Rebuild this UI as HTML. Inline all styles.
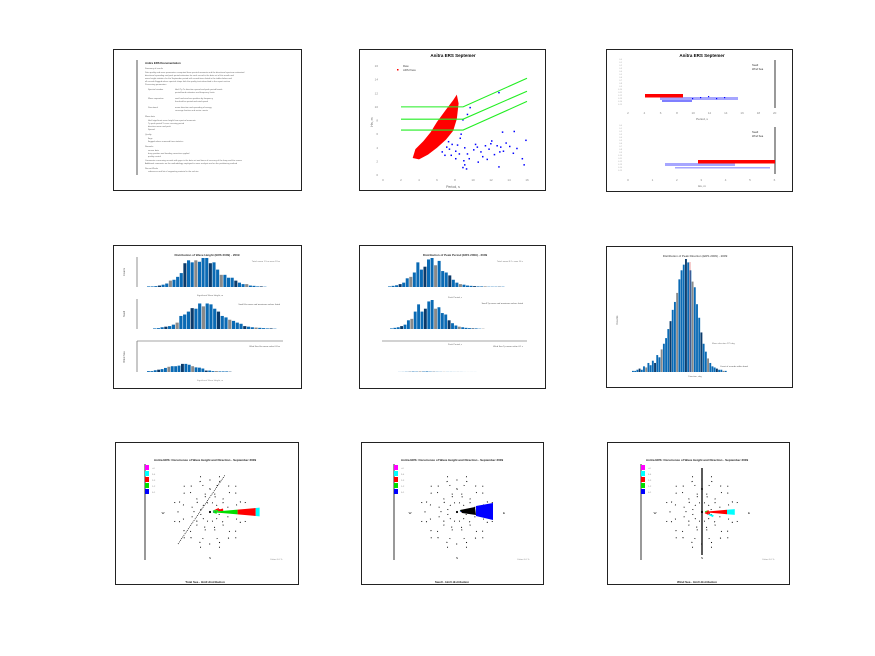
<!DOCTYPE html>
<html><head><meta charset="utf-8"><style>
html,body{margin:0;padding:0;background:#fff;}
svg{display:block;font-family:"Liberation Sans",sans-serif;}
</style></head><body>
<svg id="s" width="875" height="656" viewBox="0 0 875 656" xmlns="http://www.w3.org/2000/svg"></svg>
<script>
// ---------- data ----------
const scatterXTicks=[0,2,4,6,8,10,12,14,16];
const scatterYTicks=[0,2,4,6,8,10,12,14,16];
const redCloud=[[3.3,2.5],[3.6,3.8],[4.5,5.0],[5.3,6.3],[6.0,7.8],[7.0,9.6],[7.8,11],[8.2,11.8],[8.4,10.5],[8.2,8.2],[7.8,6.5],[7.0,5.2],[6.0,4.0],[5.0,3.0],[4.0,2.3]];
const bluePts=[[6.5,3.5],[7,4.2],[7.5,3],[8,2.5],[8.2,4.5],[8.5,5.5],[9,4.1],[9.3,3.2],[9.5,2.5],[10,3.8],[10.4,4.2],[10.8,3.5],[11,2.8],[11.3,4.4],[11.7,3.9],[12,5.1],[12.3,3.1],[12.6,4.4],[13,4.2],[13.3,3.6],[13.6,4.8],[14,4.3],[14.4,3.3],[14.8,4.0],[15.4,2.5],[15.8,5.2],[13.2,6.4],[14.5,6.5],[8.8,1.2],[9.2,1.0],[12.8,1.3],[15.6,1.6],[8.8,8.2],[9.3,9.0],[9.6,10.0],[12.8,12.2],[7.2,5.0],[8.6,6.1],[10.5,2.0],[11.5,2.4],[7.6,4.6],[8.0,3.6],[8.4,3.2],[7.3,3.9],[6.8,3.0],[9.0,1.6],[8.9,2.2],[10.2,4.6],[11.9,4.7],[12.9,3.5]];
const greenA=[[2,10],[8.9,10],[16,14.2]];
const greenB=[[2,8.2],[8.9,8.2],[16,12.3]];
const greenC=[[2,6.6],[8.9,6.6],[16,10.8]];

const histA1=[.02,.02,.03,.05,.08,.12,.22,.25,.35,.48,.82,.92,.85,.92,.87,1,1,.82,.85,.6,.42,.42,.32,.32,.22,.15,.1,.1,.05,.04,.02,.02,.01];
const histA2=[.02,.03,.06,.08,.1,.15,.22,.45,.5,.6,.72,.7,.88,.78,.88,.85,.7,.6,.45,.4,.32,.28,.22,.18,.1,.08,.06,.05,.04,.03,.02,.02,.01];
const histA3=[.03,.03,.06,.08,.1,.14,.18,.2,.2,.22,.28,.28,.25,.2,.16,.15,.12,.05,.05,.03,.03,.02,.02,.02,.01];
const histB1=[.02,.04,.06,.1,.15,.3,.35,.5,.85,.6,.7,.95,1,.75,.9,.55,.5,.4,.25,.15,.1,.08,.05,.04,.03,.02,.02,.02,.01,.01,.01,.01,.01];
const histB2=[.02,.04,.06,.1,.15,.3,.35,.6,.85,.6,.7,.95,1,.7,.75,.55,.5,.3,.2,.12,.08,.06,.04,.03,.02,.02,.01,.01];
const histB3=[.02,.03,.05,.06,.1,.08,.12,.1,.14,.08,.06,.05,.04,.04,.03,.03,.02,.02,.02,.01,.01,.01,.01];
const histC=[.01,.01,.02,.03,.02,.05,.04,.08,.06,.1,.08,.15,.13,.2,.25,.3,.38,.45,.55,.62,.7,.82,.9,.95,1,.97,.9,.8,.75,.6,.48,.35,.25,.18,.12,.08,.05,.04,.03,.02,.02,.01,.01];

const roseDirs=[70,80,90,100,110];
const rose1=[[0,2,3,0,0],[0,4,4,0,0],[1,18,14,3,0],[0,3,0,0,0],[0,0,0,0,0]];
const rose2=[[0,2,0,0,0],[1,1,0,0,0],[0,0,0,0,0],[0,0,0,0,0],[0,0,0,0,0]];
const rose3=[[0,0,0,0,0],[0,2,1,0,0],[0,1,16,6,0],[0,0,4,0,0],[0,0,3,4,0]];
const roseColors=['#0000ff','#00dd00','#ff0000','#00ffff','#ff00ff'];

// ---------- helpers ----------
const S=document.getElementById('s');
const NS='http://www.w3.org/2000/svg';
function el(tag,attrs,parent){const e=document.createElementNS(NS,tag);for(const k in attrs)e.setAttribute(k,attrs[k]);(parent||S).appendChild(e);return e;}
function txt(x,y,s,size,fill,anchor,parent,weight){const t=el('text',{x:x,y:y,'font-size':size,fill:fill||'#000','text-anchor':anchor||'start','font-weight':weight||'normal'},parent);t.textContent=s;return t;}
function panel(x0,y0,x1,y1,name){const g=el('g',{});
 el('rect',{x:x0+.5,y:y0+.5,width:x1-x0,height:y1-y0,fill:'#fff',stroke:'#222','stroke-width':1},g);return g;}

// ---------- P1 text doc ----------
(function(){
 const g=panel(113,49,301,190,'documentation-panel');
 el('line',{x1:137,y1:60,x2:137,y2:175,stroke:'#555','stroke-width':1},g);
 txt(145,64,'Anitra ERS  Documentation',2.8,'#222','start',g,'bold');
 const rows=[[145,69,'Summary of results'],[145,73,'Data quality and wave parameters computed from spectral moments and the directional spectrum estimated'],[145,76,'directional spreading and peak period estimates for each record in the data set of this month and'],[145,79,'wave height statistics for the September period with record times listed in the tables below and'],[145,82,'all records flagged where spectral shape fails the quality tests described in the report section'],[145,85,'Processing parameters'],[148,90,'Spectral window'],[175,90,'Hm0 Tp Tz direction spread and peak period bands'],[175,93,'period band estimates and frequency limits'],[148,99,'Wave separation'],[175,99,'swell and wind sea partition by frequency'],[175,102,'threshold on period and wind speed'],[148,108,'Directional'],[175,108,'mean direction and spreading of energy'],[175,111,'coverage fraction and sector counts'],[145,117,'Wave data'],[148,121,'Hm0 significant wave height from spectral moments'],[148,124,'Tp peak period  Tz zero crossing period'],[148,127,'direction mean and peak'],[148,130,'Spread'],[145,135,'Quality'],[148,139,'flags'],[148,142,'flagged values removed from statistics'],[145,147,'Remarks'],[148,151,'sensor data'],[148,154,'buoy position and heading correction applied'],[148,157,'quality control'],[145,161,'Comments concerning records with gaps in the data set and times of recovery of the buoy and the sensor'],[145,164,'Additional comments on the methodology employed in wave analysis and on the partitioning method'],[145,169,'Recent Works'],[148,172,'references and list of supporting material in the archive']];
 rows.forEach(r=>txt(r[0],r[1],r[2],2.1,'#666','start',g));
})();

// ---------- P2 scatter ----------
(function(){
 const g=panel(359,49,545,190,'scatter-period-height-panel');
 const X=v=>383+v*9, Y=v=>175-v*6.8125;
 txt(453,57,'Anitra ERS Septemer',4.5,'#000','middle',g,'bold');
 scatterXTicks.forEach(v=>txt(X(v),181,String(v),3,'#888','middle',g));
 scatterYTicks.forEach(v=>txt(378,Y(v)+1,String(v),3,'#888','end',g));
 txt(453,188,'Period, s',3.5,'#666','middle',g);
 txt(373,122,'Hs, m',3.5,'#666','middle',g).setAttribute('transform','rotate(-90 373 122)');
 txt(403,67,'Raw',2.8,'#444','start',g);txt(403,71,'ARS Pass',2.8,'#444','start',g);
 el('rect',{x:397,y:69,width:1.5,height:1.5,fill:'red'},g);
 const cloud=el('polygon',{points:redCloud.map(p=>X(p[0])+','+Y(p[1])).join(' '),fill:'#ff0000'},g);
 
 bluePts.forEach(p=>{const r=el('rect',{x:X(p[0]),y:Y(p[1]),width:1.5,height:1.5,fill:'#0000ff'},g);
  });
 [greenA,greenB,greenC].forEach((L,i)=>{const l=el('polyline',{points:L.map(p=>X(p[0])+','+Y(p[1])).join(' '),fill:'none',stroke:'#22ee22','stroke-width':1.1},g);
  });
})();

// ---------- P3 scatter pair ----------
(function(){
 const g=panel(606,49,792,191,'wind-swell-separation-panel');
 txt(702,57,'Anitra ERS Septemer',4.5,'#000','middle',g,'bold');
 [2,4,6,8,10,12,14,16,18,20].forEach((v,i)=>txt(628+i*16.3,114,String(v),3,'#888','middle',g));
 txt(702,120,'Period, s',3,'#666','middle',g);
 el('line',{x1:775,y1:60,x2:775,y2:108,stroke:'#000','stroke-width':.8},g);
 txt(752,66,'Swell',2.6,'#333','start',g);txt(752,70,'Wind Sea',2.6,'#333','start',g);
 for(let i=0;i<16;i++)txt(622,60+i*3,'0.'+i,2,'#aaa','end',g);
 el('rect',{x:660,y:97,width:78,height:3,fill:'#0000ff',opacity:.35},g);
 el('rect',{x:662,y:100,width:30,height:2,fill:'#0000ff',opacity:.5},g);
 el('rect',{x:645,y:94,width:38,height:3.5,fill:'#ff0000'},g);
 [2,4,6,8,10].forEach(i=>el('rect',{x:684+i*4,y:96+(i%3),width:1.2,height:1.2,fill:'#00f'},g));
 [0,1,2,3,4,5,6].forEach((v,i)=>txt(628+i*24.4,181,String(v),3,'#888','middle',g));
 txt(702,187,'Hs, m',3,'#666','middle',g);
 el('line',{x1:775,y1:127,x2:775,y2:174,stroke:'#000','stroke-width':.8},g);
 txt(752,133,'Swell',2.6,'#333','start',g);txt(752,137,'Wind Sea',2.6,'#333','start',g);
 for(let i=0;i<16;i++)txt(622,126+i*3,'0.'+i,2,'#aaa','end',g);
 el('rect',{x:665,y:163,width:70,height:3,fill:'#0000ff',opacity:.35},g);
 el('rect',{x:675,y:167,width:95,height:1.5,fill:'#0000ff',opacity:.35},g);
 el('rect',{x:698,y:160,width:77,height:3.5,fill:'#ff0000'},g);
})();

// ---------- histograms ----------
const barCols=['#0a6ab4','#0a6ab4','#0b3a6a','#0a6ab4','#8a8a8a','#0a6ab4','#0a6ab4'];
function hist(g,vals,x0,x1,yb,h,name){
 const w=(x1-x0)/vals.length;
 vals.forEach((v,i)=>{const r=el('rect',{x:x0+i*w,y:yb-v*h,width:Math.max(w*.85,.8),height:v*h,fill:barCols[(i*3)%barCols.length]},g);
  });
}
(function(){
 const g=panel(113,245,301,388,'histogram-hs-panel');
 txt(207,256,'Distribution of Wave Height (ERS 2009) - 2009',3,'#333','middle',g,'bold');
 el('line',{x1:137,y1:257,x2:137,y2:287,stroke:'#777','stroke-width':.8},g);
 el('line',{x1:137,y1:299,x2:137,y2:329,stroke:'#777','stroke-width':.8},g);
 el('line',{x1:137,y1:341,x2:283,y2:341,stroke:'#888','stroke-width':.8},g);
 el('line',{x1:137,y1:341,x2:137,y2:372,stroke:'#777','stroke-width':.8},g);
 hist(g,histA1,147,267,287,29,'hs-total');
 hist(g,histA2,153,277,329,29,'hs-swell');
 hist(g,histA3,147,232,372,29,'hs-windsea');
 txt(125,272,'Counts',2.6,'#555','middle',g).setAttribute('transform','rotate(-90 125 272)');
 txt(125,314,'Swell',2.6,'#555','middle',g).setAttribute('transform','rotate(-90 125 314)');
 txt(125,357,'Wind Sea',2.6,'#555','middle',g).setAttribute('transform','rotate(-90 125 357)');
 txt(280,262,'Total: mean 1.5 m  max 4.9 m',2.2,'#777','end',g);
 txt(280,305,'Swell Hs mean and maximum values listed',2.2,'#555','end',g);
 txt(280,347,'Wind Sea Hs mean value 0.8 m',2.2,'#555','end',g);
 txt(210,296,'Significant Wave Height, m',2.2,'#666','middle',g);
 txt(210,381,'Significant Wave Height, m',2.2,'#888','middle',g);
})();
(function(){
 const g=panel(359,245,545,388,'histogram-tp-panel');
 txt(455,256,'Distribution of Peak Period (ERS 2009) - 2009',3,'#333','middle',g,'bold');
 el('line',{x1:382,y1:341,x2:527,y2:341,stroke:'#888','stroke-width':.8},g);
 hist(g,histB1,388,505,287,29,'tp-total');
 hist(g,histB2,390,485,329,29,'tp-swell');
 hist(g,histB3,398,477,372,4,'tp-windsea');
 txt(523,262,'Total: mean 8.2 s  max 16 s',2.2,'#777','end',g);
 txt(523,304,'Swell Tp mean and maximum values listed',2.2,'#555','end',g);
 txt(523,347,'Wind Sea Tp mean value 4.1 s',2.2,'#555','end',g);
 txt(455,298,'Peak Period, s',2.2,'#666','middle',g);
 txt(455,345,'Peak Period, s',2.2,'#666','middle',g);
})();
(function(){
 const g=panel(606,246,792,387,'histogram-direction-panel');
 txt(695,257,'Distribution of Peak Direction (ERS 2009) - 2009',3,'#333','middle',g);
 txt(618,320,'Counts',2.8,'#555','middle',g).setAttribute('transform','rotate(-90 618 320)');
 hist(g,histC,632,727,372,113,'direction');
 el('line',{x1:690,y1:262,x2:690,y2:372,stroke:'#d33','stroke-width':.5},g);
 txt(712,344,'Mean direction 275 deg',2.2,'#777','start',g);
 txt(720,367,'Count of records within band',2.2,'#555','start',g);
 txt(695,377,'Direction, deg',2.2,'#666','middle',g);
})();

// ---------- rose plots ----------
function rose(x0,y0,x1,y1,cx,cy,data,name,title,foot,axisX,extra){
 const g=panel(x0,y0,x1,y1,name);
 txt(cx-5,461,title,3,'#222','middle',g,'bold');
 txt(cx-5,583,foot,3,'#222','middle',g,'bold');
 el('line',{x1:axisX,y1:464,x2:axisX,y2:560,stroke:'#000','stroke-width':.8},g);
 const lc=['#ff00ff','#00ffff','#ff0000','#00dd00','#0000ff'];
 lc.forEach((c,i)=>{el('rect',{x:axisX,y:465+i*6,width:4,height:5,fill:c},g);txt(axisX+7,469+i*6,['>4','3-4','2-3','1-2','0-1'][i],2.2,'#888','start',g);});
 [16,32].forEach(r=>el('circle',{cx:cx,cy:cy,r:r,fill:'none',stroke:'#000','stroke-width':1,'stroke-dasharray':'1 9'},g));
 for(let a=15;a<360;a+=30){const ra=a*Math.PI/180;el('line',{x1:cx,y1:cy,x2:cx+45*Math.sin(ra),y2:cy-45*Math.cos(ra),stroke:'#000','stroke-width':.9,'stroke-dasharray':'1 8'},g);}
 txt(cx,490,'N',3,'#000','middle',g);txt(cx,559,'S',3,'#000','middle',g);
 txt(cx-47,514,'W',3,'#000','middle',g);txt(cx+47,514,'E',3,'#000','middle',g);
 txt(cx+60,560,'Calms 0.0 %',2.2,'#888','start',g);
 const scale=1.3;
 data.forEach((cls,di)=>{let r0=3;const a=roseDirs[di];
  cls.forEach((n,ci)=>{if(!n)return;const r1=r0+n*scale;
   const a1=(a-5)*Math.PI/180,a2=(a+5)*Math.PI/180;
   const p=[[cx+r0*Math.sin(a1),cy-r0*Math.cos(a1)],[cx+r1*Math.sin(a1),cy-r1*Math.cos(a1)],[cx+r1*Math.sin(a2),cy-r1*Math.cos(a2)],[cx+r0*Math.sin(a2),cy-r0*Math.cos(a2)]];
   const w=el('polygon',{points:p.map(q=>q.join(',')).join(' '),fill:roseColors[ci]},g);
   
   r0=r1;});});
 if(extra)extra(g);
}
rose(115,442,298,584,210,512,rose1,'rose-total-panel','Anitra ERS: Occurrence of Wave Height and Direction - September 2009','Total Sea  - Hm0 distribution',145,
 g=>el('line',{x1:178,y1:544,x2:225,y2:475,stroke:'#000','stroke-width':.7,'stroke-dasharray':'1 1'},g));
rose(361,442,543,584,457,512,rose2,'rose-swell-panel','Anitra ERS: Occurrence of Wave Height and Direction - September 2009','Swell - Hm0 distribution',394,
 g=>{el('polygon',{points:'460,510 475,507 476,515 462,513',fill:'#000'},g);el('polygon',{points:'476,506 493,503 493,520 476,516',fill:'#0000ff'},g);});
rose(607,442,789,584,702,512,rose3,'rose-windsea-panel','Anitra ERS: Occurrence of Wave Height and Direction - September 2009','Wind Sea - Hm0 distribution',641,
 g=>el('line',{x1:702,y1:468,x2:702,y2:555,stroke:'#000','stroke-width':1.3},g));
</script>
</body></html>
